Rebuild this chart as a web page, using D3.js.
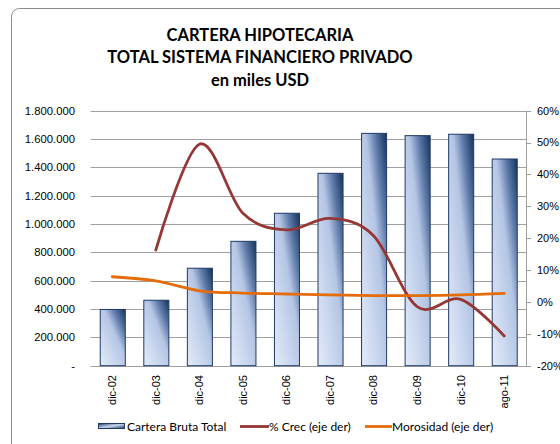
<!DOCTYPE html>
<html><head><meta charset="utf-8">
<script src="https://cdn.jsdelivr.net/npm/d3@7"></script>
<style>body{margin:0;background:#fff}svg{display:block}</style>
</head><body>
<svg id="c" width="560" height="444"></svg>
<script>
const categories = ["dic-02","dic-03","dic-04","dic-05","dic-06","dic-07","dic-08","dic-09","dic-10","ago-11"];
const cartera = [397000, 462000, 688000, 878000, 1076000, 1358000, 1640000, 1624000, 1634000, 1459000];
const crec = [null, 16.3, 49.5, 27.8, 22.6, 26.2, 20.8, -1.5, 0.8, -10.7];
const morosidad = [7.9, 6.6, 3.5, 2.8, 2.5, 2.2, 2.0, 2.0, 2.2, 2.7];
const leftTicks = [0,200000,400000,600000,800000,1000000,1200000,1400000,1600000,1800000];
const rightTicks = [-20,-10,0,10,20,30,40,50,60];
const titleLines = ["CARTERA HIPOTECARIA","TOTAL SISTEMA FINANCIERO PRIVADO","en miles USD"];
const legendLabels = ["Cartera Bruta Total","% Crec (eje der)","Morosidad (eje der)"];

const svg = d3.select("#c");
const L = 90.5, R = 526, T = 110.7, B = 365.7;
const fmtL = v => v === 0 ? "-" : d3.format(",")(v).replace(/,/g, ".");

// border
svg.append("rect").attr("x",11.5).attr("y",8.5).attr("width",600).attr("height",500)
  .attr("rx",8).attr("fill","#fff").attr("stroke","#8c8c8c").attr("stroke-width",1);

const defs = svg.append("defs");
const g1 = defs.append("linearGradient").attr("id","barG")
  .attr("x1",1).attr("y1",0).attr("x2",0).attr("y2",1);
[[0,"#14325c"],[0.22,"#5b77a6"],[0.42,"#b4c5e4"],[0.7,"#cbd8ef"],[1,"#e4ebf7"]]
  .forEach(([o,c]) => g1.append("stop").attr("offset",o).attr("stop-color",c));
const g2 = defs.append("linearGradient").attr("id","legG")
  .attr("x1",0).attr("y1",0).attr("x2",1).attr("y2",1);
[[0,"#1f3d6b"],[0.5,"#c6d4ec"],[1,"#1f3d6b"]]
  .forEach(([o,c]) => g2.append("stop").attr("offset",o).attr("stop-color",c));

const x = d3.scaleBand().domain(categories).range([L,R]).paddingInner(0.425).paddingOuter(0.2125);
const yL = d3.scaleLinear().domain([0,1800000]).range([B,T]);
const yR = d3.scaleLinear().domain([-20,60]).range([B,T]);

// gridlines
svg.append("g").selectAll("line").data(leftTicks).join("line")
  .attr("x1",L).attr("x2",R).attr("y1",d=>Math.round(yL(d))+0.5).attr("y2",d=>Math.round(yL(d))+0.5)
  .attr("stroke","#a0a0a0").attr("stroke-width",1);

// left labels
svg.append("g").selectAll("text").data(leftTicks).join("text")
  .attr("x",75).attr("y",d=>yL(d)).attr("dy","0.35em").attr("text-anchor","end")
  .attr("font-family","Liberation Sans, Arial, sans-serif").attr("font-size",11.3).attr("fill","#000")
  .text(fmtL);

// right axis
const ra = svg.append("g");
ra.append("line").attr("x1",R+0.5).attr("x2",R+0.5).attr("y1",T).attr("y2",B).attr("stroke","#a0a0a0");
ra.selectAll("line.t").data(rightTicks).join("line").attr("class","t")
  .attr("x1",R).attr("x2",R+5).attr("y1",d=>Math.round(yR(d))+0.5).attr("y2",d=>Math.round(yR(d))+0.5)
  .attr("stroke","#a0a0a0");
ra.selectAll("text").data(rightTicks).join("text")
  .attr("x",537).attr("y",d=>yR(d)).attr("dy","0.35em")
  .attr("font-family","Liberation Sans, Arial, sans-serif").attr("font-size",11).attr("fill","#000")
  .text(d=>d+"%");

// bars
svg.append("g").selectAll("rect").data(cartera).join("rect")
  .attr("x",(d,i)=>x(categories[i])+0.5).attr("width",x.bandwidth())
  .attr("y",d=>yL(d)).attr("height",d=>B-yL(d))
  .attr("fill","url(#barG)").attr("stroke","#1f3a66").attr("stroke-width",1);

// x labels
svg.append("g").selectAll("text").data(categories).join("text")
  .attr("transform",d=>`translate(${x(d)+x.bandwidth()/2},375) rotate(-90)`)
  .attr("dy","0.35em").attr("text-anchor","end")
  .attr("font-family","Liberation Sans, Arial, sans-serif").attr("font-size",11).attr("fill","#000")
  .text(d=>d);

const cx = i => x(categories[i]) + x.bandwidth()/2;
const line = d3.line().defined(d=>d[1]!=null).x(d=>cx(d[0])).y(d=>yR(d[1])).curve(d3.curveCardinal.tension(0));
svg.append("path").attr("d",line(crec.map((v,i)=>[i,v])))
  .attr("fill","none").attr("stroke","#953735").attr("stroke-width",2.8).attr("stroke-linecap","round");
svg.append("path").attr("d",line(morosidad.map((v,i)=>[i,v])))
  .attr("fill","none").attr("stroke","#e46c0a").attr("stroke-width",2.8).attr("stroke-linecap","round");

// title
svg.append("g").selectAll("text").data(titleLines).join("text")
  .attr("x",260).attr("y",(d,i)=>35+i*22.5).attr("dy","0.35em").attr("text-anchor","middle")
  .attr("font-family","Lato, Carlito, sans-serif").attr("font-weight","bold").attr("font-size",16.5).attr("fill","#000")
  .text(d=>d);

// legend
const lg = svg.append("g").attr("font-family","Lato, Carlito, sans-serif").attr("font-size",12).attr("fill","#000");
lg.append("rect").attr("x",98.5).attr("y",423.5).attr("width",26).attr("height",5).attr("fill","url(#legG)").attr("stroke","#1f3a66");
lg.append("text").attr("x",127).attr("y",427).attr("dy","0.35em").text(legendLabels[0]);
lg.append("line").attr("x1",240).attr("x2",269).attr("y1",426.5).attr("y2",426.5).attr("stroke","#953735").attr("stroke-width",2.8);
lg.append("text").attr("x",269).attr("y",427).attr("dy","0.35em").text(legendLabels[1]);
lg.append("line").attr("x1",365).attr("x2",392).attr("y1",426.5).attr("y2",426.5).attr("stroke","#e46c0a").attr("stroke-width",2.8);
lg.append("text").attr("x",392).attr("y",427).attr("dy","0.35em").text(legendLabels[2]);
</script>
</body></html>
